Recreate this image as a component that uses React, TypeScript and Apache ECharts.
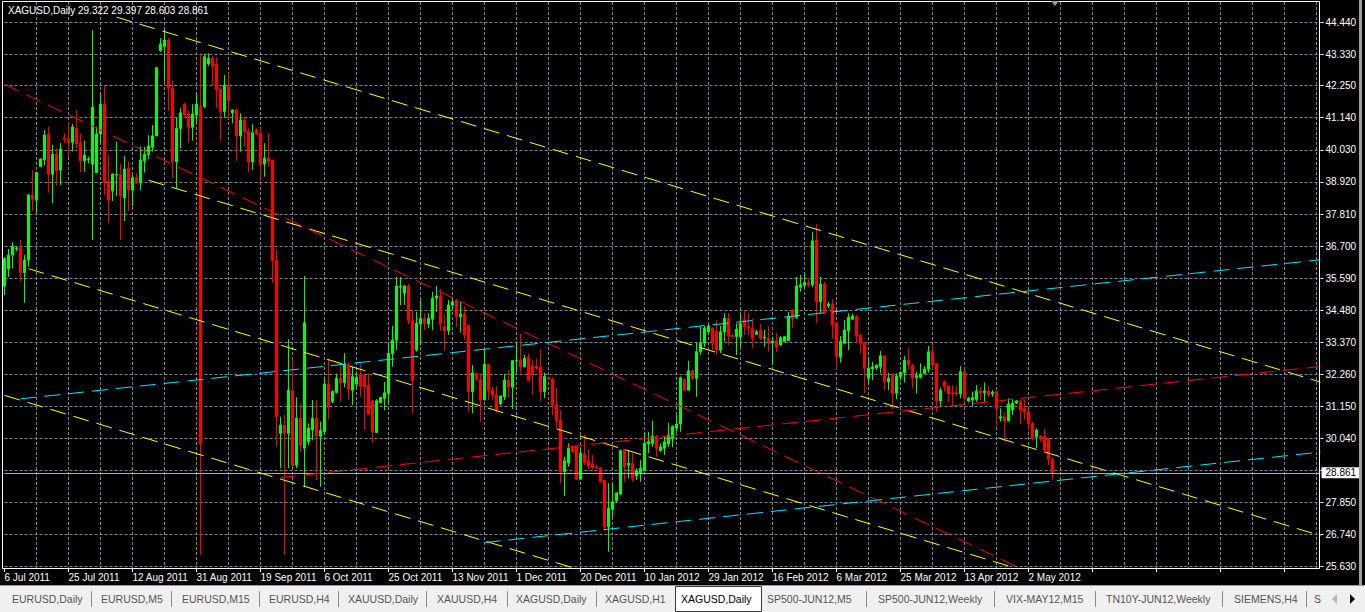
import React, { useEffect, useRef } from "react";
import * as echarts from "echarts";

// ---------- DATA ----------
const symbolTitle = "XAGUSD,Daily";
const lastBarOHLC = [29.322, 29.397, 28.603, 28.861];
const lastPrice = 28.861;

// [open, close, low, high], one row per daily bar from 6 Jul 2011
const candles: [number, number, number, number][] = [
  [35.32, 36.26, 35.01, 36.32], [35.91, 36.39, 35.63, 36.6], [36.39, 36.7, 35.94, 36.84], [36.62, 36.64, 36.53, 36.7],
  [36.65, 35.78, 35.47, 36.91], [35.78, 36.22, 34.74, 36.39], [36.22, 38.47, 35.99, 38.5], [38.47, 38.32, 37.92, 39.33],
  [38.29, 39.25, 37.81, 39.26], [39.45, 39.71, 39.45, 39.74], [39.68, 40.54, 39.5, 40.71], [40.58, 39.19, 38.55, 40.83],
  [39.19, 39.88, 38.18, 40.2], [39.88, 39.31, 38.79, 40.08], [39.33, 40.06, 38.81, 40.26], [40.45, 40.39, 40.26, 40.6],
  [40.41, 40.28, 39.79, 41.0], [40.29, 40.82, 39.97, 40.92], [40.78, 40.23, 40.08, 41.41], [40.27, 39.65, 39.27, 40.6],
  [39.65, 39.85, 39.27, 40.35], [39.69, 39.71, 39.56, 39.79], [39.54, 41.5, 36.91, 44.17], [39.24, 40.58, 39.24, 40.83],
  [40.58, 41.61, 40.26, 42.0], [41.61, 38.93, 38.47, 42.24], [38.95, 38.29, 37.49, 39.85], [38.62, 39.19, 38.26, 39.22],
  [39.16, 39.19, 38.44, 40.31], [39.19, 38.43, 36.91, 39.56], [38.37, 39.37, 37.57, 39.82], [39.39, 38.64, 37.92, 39.62],
  [38.64, 39.07, 38.09, 39.16], [39.07, 38.87, 38.87, 39.22], [38.89, 39.68, 38.64, 40.14], [39.65, 39.88, 39.24, 40.14],
  [39.87, 40.16, 39.7, 40.54], [40.12, 40.51, 39.97, 40.89], [40.51, 42.87, 40.51, 42.9], [43.46, 43.69, 43.42, 43.89],
  [43.6, 43.83, 42.39, 44.23], [43.83, 42.16, 41.38, 43.89], [42.16, 39.62, 39.05, 42.41], [39.62, 40.77, 38.7, 41.15],
  [40.77, 41.31, 40.08, 41.47], [41.61, 41.23, 41.18, 41.66], [41.27, 40.81, 40.26, 41.38], [40.81, 41.27, 40.35, 41.61],
  [41.23, 41.61, 40.95, 42.0], [41.52, 29.88, 26.02, 43.37], [41.52, 43.25, 41.47, 43.34], [43.0, 43.19, 42.93, 43.37],
  [43.19, 42.93, 42.27, 43.27], [43.0, 42.1, 41.47, 43.23], [42.12, 41.35, 40.35, 42.21], [41.35, 42.27, 41.15, 42.62],
  [42.27, 41.73, 41.12, 42.7], [41.31, 41.41, 40.95, 41.41], [41.41, 40.51, 39.65, 41.47], [40.51, 41.06, 39.97, 41.29],
  [41.06, 40.66, 40.14, 41.18], [40.69, 39.62, 39.27, 40.77], [39.62, 40.62, 39.33, 40.92], [40.72, 40.58, 40.54, 40.77],
  [40.6, 39.5, 38.93, 40.77], [39.54, 39.74, 39.1, 40.26], [39.74, 39.62, 39.45, 40.62], [39.68, 36.2, 35.43, 39.68],
  [36.22, 30.8, 29.76, 36.59], [30.23, 30.51, 29.02, 30.8], [30.51, 30.23, 26.02, 30.86], [30.23, 31.72, 29.02, 33.48],
  [31.7, 29.1, 29.1, 32.79], [29.13, 30.75, 29.02, 31.47], [30.75, 29.82, 29.59, 31.26], [29.71, 34.05, 28.38, 35.67],
  [29.94, 30.4, 29.82, 30.57], [30.34, 30.75, 29.99, 31.38], [30.75, 30.13, 28.61, 31.38], [30.13, 30.32, 28.38, 30.63],
  [30.28, 31.93, 30.17, 32.19], [31.93, 31.13, 30.71, 32.79], [31.32, 31.67, 31.27, 31.72], [31.63, 32.13, 31.61, 32.3],
  [32.13, 31.98, 31.32, 32.53], [31.98, 32.62, 31.82, 33.0], [32.62, 31.75, 31.38, 32.7], [31.72, 32.19, 31.21, 32.53],
  [31.93, 32.16, 31.78, 32.36], [32.28, 31.86, 31.49, 32.65], [32.24, 31.84, 30.34, 32.3], [31.9, 30.89, 30.86, 32.3],
  [31.35, 30.28, 29.9, 31.38], [30.26, 31.35, 30.25, 31.41], [31.29, 31.47, 31.27, 31.49], [31.44, 31.63, 31.03, 32.01],
  [31.61, 32.99, 31.27, 33.34], [32.99, 33.45, 32.53, 33.94], [33.45, 35.32, 33.11, 35.64], [35.28, 35.32, 34.66, 35.64],
  [35.07, 35.32, 34.66, 35.36], [35.32, 34.12, 34.01, 35.41], [34.12, 32.05, 30.92, 34.49], [33.11, 34.03, 33.05, 34.43],
  [34.01, 34.2, 33.28, 34.84], [34.2, 34.03, 33.8, 34.38], [34.01, 34.2, 33.86, 34.38], [34.17, 34.9, 33.8, 35.12],
  [34.9, 34.98, 34.43, 35.32], [34.98, 34.01, 33.78, 35.21], [33.91, 33.78, 33.08, 34.32], [33.78, 34.66, 33.63, 34.84],
  [34.66, 34.78, 34.49, 34.86], [34.84, 34.26, 33.91, 34.87], [34.26, 34.35, 33.71, 34.78], [34.35, 33.63, 33.45, 34.61],
  [33.97, 31.67, 30.97, 33.97], [31.67, 32.32, 30.92, 32.59], [32.3, 32.1, 32.05, 32.3], [32.1, 31.38, 30.63, 32.3],
  [31.38, 32.62, 31.38, 33.11], [32.62, 31.7, 31.38, 32.62], [31.72, 31.55, 31.38, 31.84], [31.55, 31.03, 30.94, 31.86],
  [31.24, 31.52, 31.21, 31.52], [31.49, 32.07, 31.38, 32.28], [32.05, 31.84, 31.47, 32.42], [31.82, 32.74, 31.06, 32.76],
  [32.74, 32.76, 32.36, 33.4], [32.76, 32.53, 32.3, 33.66], [32.53, 32.82, 32.51, 32.94], [32.84, 32.05, 32.04, 32.99],
  [32.55, 32.24, 31.55, 32.76], [32.55, 32.48, 32.42, 32.82], [32.51, 31.67, 31.35, 33.13], [31.67, 32.19, 31.44, 32.32],
  [32.16, 32.1, 32.07, 32.19], [32.1, 31.21, 30.86, 32.16], [31.21, 30.66, 30.4, 31.79], [30.69, 28.9, 28.5, 31.03],
  [28.9, 29.28, 28.06, 29.42], [29.21, 29.71, 29.07, 29.88], [29.76, 29.59, 29.56, 29.79], [29.76, 28.64, 28.61, 29.76],
  [28.64, 29.54, 28.61, 29.71], [29.51, 29.21, 29.13, 30.17], [29.28, 29.1, 28.98, 29.69], [29.19, 29.05, 28.98, 29.48],
  [29.07, 29.04, 28.98, 29.13], [29.02, 28.55, 28.55, 29.07], [28.61, 27.0, 26.83, 28.61], [27.0, 27.63, 26.13, 28.5],
  [27.6, 27.86, 27.34, 28.5], [27.9, 28.17, 27.83, 28.17], [28.13, 29.63, 28.09, 29.65], [29.67, 29.07, 28.55, 29.67],
  [29.13, 29.19, 28.67, 29.65], [29.19, 28.67, 28.55, 29.54], [28.75, 28.93, 28.61, 29.02], [28.85, 29.02, 28.55, 29.3],
  [28.93, 29.88, 28.93, 30.28], [29.86, 29.94, 29.54, 30.28], [29.88, 30.13, 29.76, 30.66], [30.13, 29.71, 29.42, 30.17],
  [29.63, 29.76, 29.59, 29.88], [29.71, 29.94, 29.48, 30.13], [29.86, 30.17, 29.76, 30.59], [30.05, 30.46, 29.74, 30.51],
  [30.4, 30.55, 30.28, 30.86], [30.55, 32.15, 30.28, 32.19], [32.1, 31.72, 31.7, 32.13], [31.72, 32.39, 31.72, 32.74],
  [32.39, 32.13, 32.07, 32.44], [32.13, 33.05, 31.49, 33.36], [33.05, 33.36, 32.94, 33.91], [33.34, 33.86, 33.22, 33.94],
  [33.74, 33.94, 33.68, 34.01], [33.86, 33.34, 33.11, 33.91], [33.74, 33.11, 32.94, 34.15], [33.11, 33.74, 33.0, 33.94],
  [33.74, 34.2, 33.4, 34.38], [34.2, 33.59, 33.28, 34.38], [33.62, 33.57, 33.56, 33.66], [33.57, 33.82, 32.94, 34.03],
  [33.57, 34.03, 33.22, 34.38], [34.17, 33.91, 33.63, 34.49], [33.91, 33.86, 33.63, 34.38], [33.86, 33.51, 33.17, 34.2],
  [33.65, 33.74, 33.63, 33.8], [33.78, 33.51, 33.45, 34.01], [33.52, 33.55, 33.22, 33.8], [33.51, 33.34, 33.05, 33.94],
  [33.36, 33.42, 32.59, 33.57], [33.42, 33.2, 33.05, 33.69], [33.28, 33.53, 33.25, 33.59], [33.4, 33.57, 33.39, 33.59],
  [33.43, 34.26, 33.43, 34.43], [34.49, 34.19, 33.86, 34.52], [34.24, 35.32, 34.18, 35.64], [35.28, 35.36, 35.12, 35.7],
  [35.35, 35.44, 35.24, 35.76], [35.44, 35.37, 35.28, 35.59], [35.36, 36.88, 35.28, 37.2], [36.91, 34.78, 34.03, 37.46],
  [34.78, 35.39, 34.38, 35.64], [35.39, 34.38, 34.35, 35.47], [34.63, 34.7, 34.55, 34.78], [34.7, 33.97, 33.51, 34.86],
  [34.05, 32.88, 32.44, 34.08], [32.86, 33.4, 32.67, 33.59], [33.34, 33.8, 33.31, 34.15], [33.78, 34.24, 33.11, 34.38],
  [34.17, 34.28, 34.15, 34.35], [34.28, 33.59, 33.34, 34.32], [33.63, 33.34, 33.0, 33.63], [33.37, 32.48, 31.61, 33.4],
  [32.13, 32.48, 31.9, 32.88], [32.46, 32.53, 32.07, 32.7], [32.49, 32.57, 32.42, 32.62], [32.53, 32.91, 32.3, 33.08],
  [32.91, 32.01, 31.72, 32.91], [32.01, 32.13, 31.72, 32.32], [32.28, 31.61, 31.06, 32.3], [31.61, 32.21, 31.4, 32.3],
  [32.19, 32.34, 32.05, 32.36], [32.32, 32.76, 31.98, 32.9], [32.76, 32.59, 32.44, 33.17], [32.59, 32.13, 31.78, 32.62],
  [32.16, 32.22, 31.61, 32.36], [32.16, 32.28, 32.13, 32.65], [32.3, 32.45, 32.29, 32.55], [32.44, 33.05, 32.32, 33.25],
  [33.05, 32.59, 32.44, 33.28], [32.65, 31.35, 30.97, 32.65], [31.35, 31.72, 31.17, 31.82], [32.01, 31.84, 31.67, 32.07],
  [31.86, 31.59, 31.29, 31.9], [31.63, 31.59, 31.15, 31.9], [31.63, 31.59, 31.52, 31.84], [31.59, 32.36, 31.44, 32.55],
  [32.36, 31.44, 31.32, 32.42], [31.35, 31.44, 31.29, 31.49], [31.38, 31.46, 31.15, 31.67], [31.4, 31.69, 31.32, 31.9],
  [31.7, 31.61, 31.38, 31.84], [31.63, 31.69, 31.32, 31.99], [31.69, 31.55, 31.49, 31.86], [31.59, 31.65, 31.49, 31.72],
  [31.67, 31.09, 30.46, 31.69], [30.75, 30.8, 30.63, 31.09], [30.8, 30.66, 29.94, 30.97], [30.66, 31.24, 30.63, 31.44],
  [31.03, 31.27, 30.86, 31.4], [31.27, 31.35, 31.24, 31.38], [31.32, 31.03, 30.55, 31.38], [31.09, 30.97, 30.71, 31.38],
  [30.97, 30.57, 30.34, 31.03], [30.57, 30.05, 29.99, 30.63], [30.11, 30.34, 29.71, 30.4], [30.13, 30.05, 29.94, 30.16],
  [30.13, 29.65, 29.59, 30.37], [30.05, 29.33, 29.13, 30.05], [29.322, 28.861, 28.603, 29.397],
];

// date labels every 16 bars
const dateLabels = [
  "6 Jul 2011", "25 Jul 2011", "12 Aug 2011", "31 Aug 2011", "19 Sep 2011", "6 Oct 2011", "25 Oct 2011",
  "13 Nov 2011", "1 Dec 2011", "20 Dec 2011", "10 Jan 2012", "29 Jan 2012", "16 Feb 2012", "6 Mar 2012",
  "25 Mar 2012", "13 Apr 2012", "2 May 2012",
];

// price scale labels and grid levels
const priceLabels = [25.63, 26.74, 27.85, 30.04, 31.15, 32.26, 33.37, 34.48, 35.59, 36.7, 37.81, 38.92, 40.03, 41.14, 42.25, 43.33, 44.44];
const gridLevels = [25.63, 26.74, 27.85, 28.95, 30.04, 31.15, 32.26, 33.37, 34.48, 35.59, 36.7, 37.81, 38.92, 40.03, 41.14, 42.25, 43.33, 44.44];

// trend lines: [barIndex, price] endpoints
const yellowLines: [number, number][][] = [
  [[28, 44.62], [329, 32.0]],
  [[36, 38.98], [329, 26.69]],
  [[6, 35.92], [329, 22.37]],
  [[0, 31.54], [329, 17.74]],
];
const redLines: [number, number][][] = [
  [[0, 42.3], [329, 20.61]],
  [[69, 28.7], [329, 32.54]],
];
const cyanLines: [number, number][][] = [
  [[4, 31.42], [329, 36.23]],
  [[120, 26.45], [329, 29.58]],
];

const tabNames = [
  "EURUSD,Daily", "EURUSD,M5", "EURUSD,M15", "EURUSD,H4", "XAUUSD,Daily", "XAUUSD,H4", "XAGUSD,Daily",
  "XAGUSD,H1", "XAGUSD,Daily", "SP500-JUN12,M5", "SP500-JUN12,Weekly", "VIX-MAY12,M15", "TN10Y-JUN12,Weekly",
  "SIEMENS,H4", "S",
];
const activeTab = 8;

// ---------- LAYOUT ----------
const W = 1365;
const H = 612;
const BAR_SLOTS = 330;
const FONT = "'Liberation Sans', Arial, sans-serif";
const tabTextX = [12, 101, 182, 269, 348, 437, 516, 605, 681, 767, 878, 1006, 1106, 1234, 1314];
const tabSepX = [91, 171, 259, 338, 426, 507, 596, 866, 994, 1095, 1222, 1306];

export default function App() {
  const ref = useRef<HTMLDivElement>(null);

  useEffect(() => {
    if (!ref.current) return;
    const chart = echarts.init(ref.current, undefined, { renderer: "svg" });
    const categories = Array.from({ length: BAR_SLOTS }, (_, i) => String(i));

    const lineSeries = (lines: [number, number][][], color: string) =>
      lines.map((pts) => ({
        type: "line",
        data: pts,
        symbol: "none",
        silent: true,
        clip: true,
        z: 5,
        lineStyle: { color, width: 1, type: [16, 8] },
      }));

    const tabGraphics: any[] = [
      { type: "rect", shape: { x: 0, y: 585, width: W, height: 27 }, style: { fill: "#f0f0f0" }, z: 100 },
      { type: "line", shape: { x1: 0, y1: 585.5, x2: W, y2: 585.5 }, style: { stroke: "#9a9a9a", lineWidth: 1 }, z: 101 },
      {
        type: "rect",
        shape: { x: 675.5, y: 586.5, width: 86, height: 25 },
        style: { fill: "#ffffff", stroke: "#3a3a3a", lineWidth: 1 },
        z: 101,
      },
    ];
    tabSepX.forEach((x) =>
      tabGraphics.push({
        type: "line",
        shape: { x1: x + 0.5, y1: 591, x2: x + 0.5, y2: 607 },
        style: { stroke: "#8a8a8a", lineWidth: 1 },
        z: 101,
      })
    );
    tabNames.forEach((t, i) =>
      tabGraphics.push({
        type: "text",
        x: tabTextX[i],
        y: 599,
        style: {
          text: t,
          fill: i === activeTab ? "#000000" : "#555555",
          font: `10.5px ${FONT}`,
          textVerticalAlign: "middle",
          textAlign: "left",
        },
        z: 102,
      })
    );
    tabGraphics.push(
      { type: "polygon", shape: { points: [[1337, 594], [1337, 604], [1332, 599]] }, style: { fill: "#b8b8b8" }, z: 102 },
      { type: "polygon", shape: { points: [[1350, 594], [1350, 604], [1355, 599]] }, style: { fill: "#000000" }, z: 102 }
    );

    const option: any = {
      animation: false,
      backgroundColor: "#000000",
      textStyle: { fontFamily: FONT },
      grid: { left: 4.5, right: 44.5, top: 2, bottom: 44, show: false, outerBoundsMode: "none" },
      xAxis: {
        type: "category",
        data: categories,
        boundaryGap: false,
        axisLine: { show: false },
        axisTick: {
          show: true,
          interval: (i: number) => i % 16 === 0,
          length: 4,
          lineStyle: { color: "#ffffff" },
        },
        axisLabel: {
          interval: (i: number) => i % 16 === 0,
          formatter: (_v: string, i: number) => dateLabels[i / 16] ?? "",
          color: "#ffffff",
          fontSize: 10,
          fontFamily: FONT,
          align: "left",
          margin: 4,
        },
        splitLine: {
          show: true,
          interval: (i: number) => i % 8 === 0 && i > 0,
          lineStyle: { color: "#778899", width: 1, type: [3, 2] },
        },
      },
      yAxis: {
        type: "value",
        position: "right",
        min: 25.5707,
        max: 45.1419,
        axisLine: { show: false },
        axisTick: { show: true, customValues: gridLevels, length: 3, lineStyle: { color: "#ffffff" } },
        axisLabel: {
          customValues: priceLabels,
          formatter: (v: number) => v.toFixed(3),
          color: "#ffffff",
          fontSize: 10,
          fontFamily: FONT,
          margin: 5,
        },
        splitLine: { show: true, lineStyle: { color: "#778899", width: 1, type: [3, 2] } },
      },
      series: [
        {
          type: "candlestick",
          data: candles,
          barWidth: 2,
          z: 3,
          itemStyle: {
            color: "#00ff00",
            color0: "#ff0000",
            borderColor: "#00ff00",
            borderColor0: "#ff0000",
            borderWidth: 1,
          },
          markLine: {
            symbol: "none",
            silent: true,
            data: [{ yAxis: lastPrice }],
            lineStyle: { color: "#a4acb4", type: "solid", width: 1 },
            label: {
              show: true,
              position: "end",
              formatter: lastPrice.toFixed(3),
              backgroundColor: "#ffffff",
              color: "#000000",
              fontSize: 10,
              fontFamily: FONT,
              padding: [1, 4, 0, 4],
              distance: 1,
            },
          },
        },
        ...lineSeries(yellowLines, "#ffff00"),
        ...lineSeries(redLines, "#ff0000"),
        ...lineSeries(cyanLines, "#00e5ff"),
      ],
      graphic: [
        {
          type: "rect",
          shape: { x: 2.5, y: 1.5, width: 1317, height: 567 },
          style: { fill: "none", stroke: "#ffffff", lineWidth: 1 },
          z: 50,
          silent: true,
        },
        { type: "rect", shape: { x: 1359, y: 0, width: 3, height: 585 }, style: { fill: "#a0a0a0" }, z: 50 },
        {
          type: "polygon",
          shape: { points: [[1051, 1], [1059, 1], [1055, 6]] },
          style: { fill: "#9a9a9a" },
          z: 51,
        },
        {
          type: "text",
          x: 8,
          y: 10,
          style: { text: symbolTitle, fill: "#ffffff", font: `10px ${FONT}`, textVerticalAlign: "middle" },
          z: 52,
        },
        {
          type: "text",
          x: 78,
          y: 10,
          style: {
            text: lastBarOHLC.map((v) => v.toFixed(3)).join(" "),
            fill: "#ffffff",
            font: `10px ${FONT}`,
            textVerticalAlign: "middle",
          },
          z: 52,
        },
        ...tabGraphics,
      ],
    };

    chart.setOption(option);
    return () => chart.dispose();
  }, []);

  return (
    <div
      ref={ref}
      style={{ position: "fixed", left: 0, top: 0, width: W, height: H, background: "#000" }}
    />
  );
}
